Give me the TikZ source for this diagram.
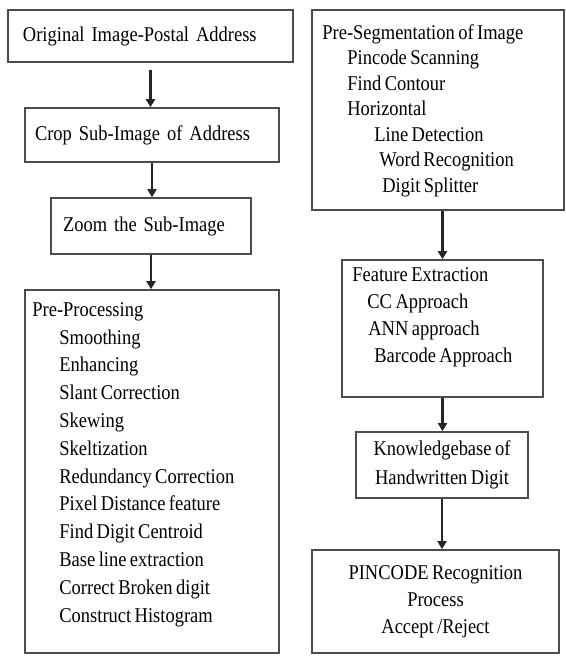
\documentclass[tikz,border=0pt]{standalone}
\usepackage{fontspec}
\setmainfont{Liberation Serif}[FakeStretch=0.88, WordSpace=0.75]
\usetikzlibrary{arrows.meta}

\tikzset{
  stage/.style={draw=black!70, line width=1.6pt, inner sep=0pt, font=\fontsize{21}{27.8}\selectfont},
  steps/.style={inner sep=0pt, align=left, anchor=north west},
  flow/.style={-{Triangle[length=8pt,width=9pt]}, line width=2.6pt, black!85},
}

\begin{document}
\begin{tikzpicture}[x=1pt,y=-1pt]
\useasboundingbox (0,0) rectangle (565,656);

\coordinate (original-image-pos) at (150.5,36);
\coordinate (crop-pos) at (152,135);
\coordinate (zoom-pos) at (151,226);
\coordinate (pre-processing-pos) at (152,471.5);
\coordinate (pre-segmentation-pos) at (438,110);
\coordinate (feature-pos) at (442.5,328.5);
\coordinate (knowledge-pos) at (442,465);
\coordinate (pincode-pos) at (435.5,601.5);

\node [stage, minimum width=285, minimum height=52, text width=255, align=left] (original-image) at (original-image-pos) {Original Image-Postal Address};
\node [stage, minimum width=254, minimum height=54, text width=234, align=left] (crop) at (crop-pos) {Crop Sub-Image of Address};
\node [stage, minimum width=200, minimum height=56, text width=176, align=left] (zoom) at (zoom-pos) {Zoom the Sub-Image};

\node [stage, minimum width=254, minimum height=363] (pre-processing) at (pre-processing-pos) {};
\node [steps, font=\fontsize{21}{27.8}\selectfont] (pre-processing-list) at ([shift={(8,13)}]pre-processing.north west)
  {Pre-Processing\\
   \hspace*{27pt}Smoothing\\
   \hspace*{27pt}Enhancing\\
   \hspace*{27pt}Slant Correction\\
   \hspace*{27pt}Skewing\\
   \hspace*{27pt}Skeltization\\
   \hspace*{27pt}Redundancy Correction\\
   \hspace*{27pt}Pixel Distance feature\\
   \hspace*{27pt}Find Digit Centroid\\
   \hspace*{27pt}Base line extraction\\
   \hspace*{27pt}Correct Broken digit\\
   \hspace*{27pt}Construct Histogram};

\node [stage, minimum width=252, minimum height=200] (pre-segmentation) at (pre-segmentation-pos) {};
\node [steps, font=\fontsize{21}{25.5}\selectfont] (pre-segmentation-list) at ([shift={(11,15)}]pre-segmentation.north west)
  {Pre-Segmentation of Image\\
   \hspace*{25pt}Pincode Scanning\\
   \hspace*{25pt}Find Contour\\
   \hspace*{25pt}Horizontal\\
   \hspace*{52pt}Line Detection\\
   \hspace*{57pt}Word Recognition\\
   \hspace*{60pt}Digit Splitter};

\node [stage, minimum width=201, minimum height=137] (feature) at (feature-pos) {};
\node [steps, font=\fontsize{21}{27}\selectfont] (feature-list) at ([shift={(11,8)}]feature.north west)
  {Feature Extraction\\
   \hspace*{15pt}CC Approach\\
   \hspace*{16pt}ANN approach\\
   \hspace*{22pt}Barcode Approach};

\node [stage, minimum width=172, minimum height=66, align=center, font=\fontsize{21}{29}\selectfont] (knowledge) at (knowledge-pos) {Knowledgebase of\\Handwritten Digit};
\node [stage, minimum width=247, minimum height=103, align=center, font=\fontsize{21}{27}\selectfont] (pincode) at (pincode-pos) {PINCODE Recognition\\Process\\Accept /Reject};

\draw [flow, shorten <=7pt] (original-image.south) -- (original-image.south |- crop.north);
\draw [flow] (crop.south) -- (crop.south |- zoom.north);
\draw [flow] (zoom.south) -- (zoom.south |- pre-processing.north);
\draw [flow] (pre-segmentation.south -| feature.north) -- (feature.north);
\draw [flow] (feature.south) -- (feature.south |- knowledge.north);
\draw [flow] (knowledge.south) -- (knowledge.south |- pincode.north);

\end{tikzpicture}
\end{document}
